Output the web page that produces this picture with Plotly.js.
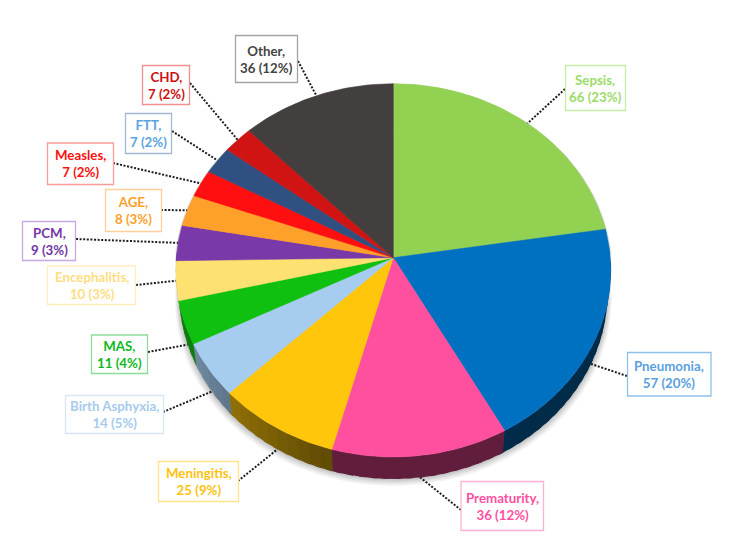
<!DOCTYPE html>
<html>
<head>
<meta charset="utf-8">
<script src="https://cdn.plot.ly/plotly-3.0.1.min.js"></script>
<style>html,body{margin:0;padding:0;background:#fff}#chart{width:750px;height:539px}</style>
</head>
<body>
<div id="chart"></div>
<script>
// ---- data ----
var categories = ["Sepsis","Pneumonia","Prematurity","Meningitis","Birth Asphyxia","MAS","Encephalitis","PCM","AGE","Measles","FTT","CHD","Other"];
var counts = [66,57,36,25,14,11,10,9,8,7,7,7,36];
var percents = [23,20,12,9,5,4,3,3,3,2,2,2,12];

// ---- styles ----
var sliceColors = ["#93d152","#0070c0","#ff4f9f","#ffc60b","#a6cdf0","#10c010","#ffe171","#7a39a8","#ffa02a","#ff0f0f","#2f5080","#d01414","#433f3e"];
var textColors = ["#9bdb68","#5b9fdf","#ff4fa0","#ffc20e","#a6cbee","#0fb81e","#ffdd80","#7436a6","#ff9f2a","#ff1010","#5ba3e0","#cc1111","#444444"];
var borderColors = ["#c8eba8","#8fc0ea","#ffb0d4","#ffe48c","#d6e6f6","#8edc9a","#ffeebc","#c6a8e2","#ffd09a","#ff9a9a","#a3b6d2","#f09090","#a4a4a4"];

// ---- label boxes: [left, top, right, bottom] in page pixels, and where the leader leaves the box ----
var labelBoxes = [
  [565.5,65.5,625.5,110.5],[627.5,352.5,711,396],[461,481.5,543.5,530.5],[158.5,461.5,238.5,501.5],
  [65.5,395.5,163.5,433.5],[91.5,335,147.5,373.5],[47.5,266,135.5,304.5],[22.5,221.5,75.5,260.5],
  [105.5,189.5,161.5,231.5],[47.5,143,113.5,184.5],[125.5,113.5,171.5,153.5],[142.5,65.5,189.5,104.5],
  [235.5,35.5,297.5,82.5]];
var leaderAnchors = [[565,89],[627,376],[461,510],[238,481],[163,412],[148,352],[136,285],[76,239],[161,210],[113,163],[172,131],[190,83],[298,61]];

// ---- pie geometry (perspective projected disc) ----
var CX = 393.3, CY = 257.7, RX = 217, RY = 185.8, K = 0.0677, DEPTH = 22, BOTTOM_SCALE = 0.985;
var total = counts.reduce(function(a,b){return a+b;},0);
function rim(deg){
  var t = deg*Math.PI/180, c = Math.cos(t), s = Math.sin(t), d = 1+K*c;
  return [CX+RX*s/d, CY-RY*c/d];
}
function rimLow(deg){
  var p = rim(deg);
  return [CX+(p[0]-CX)*BOTTOM_SCALE, p[1]+DEPTH];
}
function shade(hex,f){
  var n = parseInt(hex.slice(1),16);
  var r=(n>>16)&255,g=(n>>8)&255,b=n&255;
  return "rgb("+Math.round(r*f)+","+Math.round(g*f)+","+Math.round(b*f)+")";
}
function wallFactor(deg){
  if(deg<195) return 0.38;
  return Math.min(0.66,0.37+(deg-195)/45*0.29);
}
var traces = [];
var starts = [], acc = 0;
counts.forEach(function(v){starts.push(acc/total*360); acc+=v;});
starts.push(360);

// leaders (below everything else)
categories.forEach(function(cat,i){
  var mid = (starts[i]+starts[i+1])/2;
  var tip = (mid>95 && mid<255) ? rimLow(mid) : rim(mid);
  traces.push({type:"scatter",mode:"lines",x:[leaderAnchors[i][0],tip[0]],y:[leaderAnchors[i][1],tip[1]],
    line:{color:"#1c1c1c",width:2,dash:"2px,1.6px"},hoverinfo:"skip",showlegend:false});
});

// soft shadow under the disc
[7,5.5,4,2.8,1.6,0.7].forEach(function(off){
  var xs=[],ys=[];
  for(var d=0;d<=360;d+=2){
    var p = rim(d), q = rimLow(d);
    var low = (d>=90 && d<=270);
    xs.push(low ? q[0]+(q[0]-CX)/217*off*0.6 : p[0]+(p[0]-CX)/217*off*0.25);
    ys.push(low ? q[1]+off : p[1]);
  }
  traces.push({type:"scatter",mode:"lines",x:xs,y:ys,fill:"toself",fillcolor:"rgba(0,0,0,0.045)",
    line:{width:0},hoverinfo:"skip",showlegend:false});
});

// side wall, cut into narrow strips for shading; strips overlap so no seams show
categories.forEach(function(cat,i){
  var a = Math.max(starts[i],88), b = Math.min(starts[i+1],272);
  if(b<=a) return;
  for(var d=a;d<b;d+=3){
    var e = Math.min(d+3,b), e2 = Math.min(e+1.5,272);
    var xs=[],ys=[];
    [d,(d+e2)/2,e2].forEach(function(t){var p=rim(t);xs.push(p[0]);ys.push(p[1]);});
    [e2,(d+e2)/2,d].forEach(function(t){var p=rimLow(t);xs.push(p[0]);ys.push(p[1]);});
    xs.push(xs[0]);ys.push(ys[0]);
    traces.push({type:"scatter",mode:"lines",x:xs,y:ys,fill:"toself",
      fillcolor:shade(sliceColors[i],wallFactor((d+e)/2)),
      line:{width:0},name:cat,hoverinfo:"name",showlegend:false});
  }
});

// top face
categories.forEach(function(cat,i){
  var xs=[CX],ys=[CY];
  for(var d=starts[i];d<starts[i+1];d+=1){var p=rim(d);xs.push(p[0]);ys.push(p[1]);}
  var end=rim(starts[i+1]);xs.push(end[0]);ys.push(end[1]);xs.push(CX);ys.push(CY);
  traces.push({type:"scatter",mode:"lines",x:xs,y:ys,fill:"toself",fillcolor:sliceColors[i],
    line:{color:sliceColors[i],width:0.5},name:cat,
    text:cat+", "+counts[i]+" ("+percents[i]+"%)",hoverinfo:"text",showlegend:false});
});

var shapes = labelBoxes.map(function(b,i){
  return {type:"rect",xref:"x",yref:"y",x0:b[0],y0:b[1],x1:b[2],y1:b[3],
    line:{color:borderColors[i],width:1.3},fillcolor:"#ffffff",layer:"above"};
});
var annotations = categories.map(function(cat,i){
  var b = labelBoxes[i];
  return {xref:"x",yref:"y",x:(b[0]+b[2])/2,y:(b[1]+b[3])/2,xanchor:"center",yanchor:"middle",
    text:cat+",<br>"+counts[i]+" ("+percents[i]+"%)",showarrow:false,align:"center",
    font:{family:"Lato, Carlito, sans-serif",size:13.3,color:textColors[i],weight:700}};
});

Plotly.newPlot("chart",traces,{
  width:750,height:539,margin:{l:0,r:0,t:0,b:0},paper_bgcolor:"#ffffff",plot_bgcolor:"#ffffff",
  showlegend:false,hovermode:"closest",
  xaxis:{range:[0,750],visible:false,fixedrange:true},
  yaxis:{range:[539,0],visible:false,fixedrange:true},
  shapes:shapes,annotations:annotations
},{displayModeBar:false});
</script>
</body>
</html>
